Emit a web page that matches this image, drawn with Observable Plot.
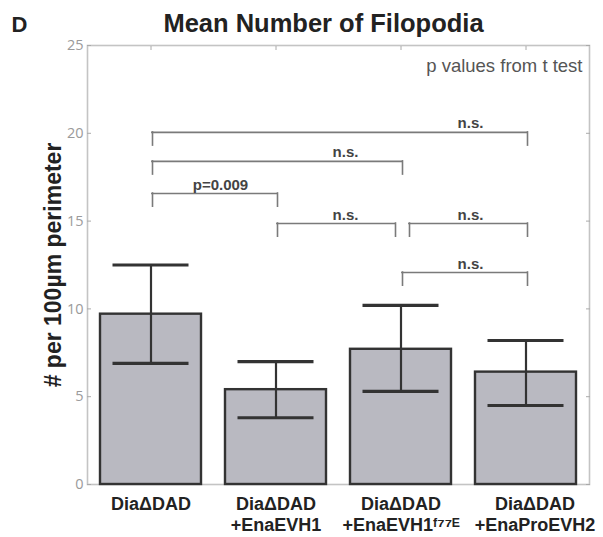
<!DOCTYPE html>
<html>
<head>
<meta charset="utf-8">
<script src="https://cdn.jsdelivr.net/npm/d3@7"></script>
<script src="https://cdn.jsdelivr.net/npm/@observablehq/plot@0.6"></script>
<style>
  body { margin: 0; background: #fff; }
  #chart svg { display: block; }
</style>
</head>
<body>
<div id="chart"></div>
<script>
// ---- data ----
const categories = ["DiaΔDAD", "DiaΔDAD\n+EnaEVH1", "DiaΔDAD\n+EnaEVH1ᶠ⁷⁷ᴱ", "DiaΔDAD\n+EnaProEVH2"];
const means   = [9.7, 5.4, 7.7, 6.4];
const errLow  = [6.9, 3.8, 5.3, 4.5];
const errHigh = [12.5, 7.0, 10.2, 8.2];

const bracketFrom   = [0, 0, 0, 1, 2, 2];
const bracketTo     = [3, 2, 1, 2, 3, 3];
const bracketLevel  = [20.05, 18.4, 16.57, 14.86, 14.86, 12.07];
const bracketLabels = ["n.s.", "n.s.", "p=0.009", "n.s.", "n.s.", "n.s."];

const yTicks = [0, 5, 10, 15, 20, 25];

const titleText = "Mean Number of Filopodia";
const panelLetter = "D";
const noteText = "p values from t test";
const yLabel = "# per 100µm perimeter";

// ---- layout ----
const W = 603, H = 537, ML = 87, MR = 14, MT = 45, MB = 53;
const PI = 0.194, PO = 0.104;
const band = d3.scaleBand().domain(categories).range([ML, W - MR]).paddingInner(PI).paddingOuter(PO);
const bw = band.bandwidth(), step = band.step();
const GAP = 7, LEG = 0.75, BDX = 1.5;
const bracketColor = "#7a7a7a";

const bars = categories.map((c, i) => ({cat: c, mean: means[i], lo: errLow[i], hi: errHigh[i]}));
const brackets = bracketFrom.map((f, i) => ({
  fi: f, ti: bracketTo[i],
  from: categories[f], to: categories[bracketTo[i]],
  y: bracketLevel[i], label: bracketLabels[i]
}));

const bracketMarks = brackets.flatMap(b => {
  const nr = brackets.some(o => o !== b && o.y === b.y && o.fi === b.ti) ? GAP : 0;
  const nl = brackets.some(o => o !== b && o.y === b.y && o.ti === b.fi) ? GAP : 0;
  const common = {stroke: bracketColor, strokeWidth: 1.6, strokeLinecap: "square"};
  return [
    Plot.ruleY([b], {y: "y", x1: "from", x2: "to", insetLeft: bw / 2 + nl, insetRight: bw / 2 + nr, dx: BDX, ...common}),
    Plot.ruleX([b], {x: "from", y1: "y", y2: d => d.y - LEG, dx: BDX + nl, ...common}),
    Plot.ruleX([b], {x: "to", y1: "y", y2: d => d.y - LEG, dx: BDX - nr, ...common})
  ];
});

const xLabelOpts = {
  tickSize: 0, tickPadding: 10, fontSize: 18, fontWeight: "bold", lineHeight: 1.2,
  label: null, color: "#222"
};

const chart = Plot.plot({
  width: W, height: H,
  marginLeft: ML, marginRight: MR, marginTop: MT, marginBottom: MB,
  style: {fontFamily: "'Liberation Sans', Arial, sans-serif", background: "#fff"},
  x: {type: "band", domain: categories, paddingInner: PI, paddingOuter: PO},
  y: {domain: [0, 25]},
  marks: [
    Plot.frame({stroke: "#c4c4c4", strokeWidth: 1.6}),
    // inner tick marks (MATLAB-style box)
    Plot.axisY({ticks: yTicks, tickSize: 4, dx: 4, tickFormat: () => "", label: null, color: "#aaa"}),
    Plot.axisY({anchor: "right", ticks: yTicks, tickSize: 4, dx: -4, tickFormat: () => "", label: null, color: "#aaa"}),
    Plot.axisX({anchor: "top", tickSize: 4, dy: 4, tickFormat: () => "", label: null, color: "#aaa"}),
    // y tick labels
    Plot.axisY({ticks: yTicks, tickSize: 0, tickPadding: 4, fontSize: 14.5, fontFamily: "'Open Sans', sans-serif", label: null, color: "#9a9a9a"}),
    // x tick labels
    Plot.axisX({ticks: categories.slice(0, 3), ...xLabelOpts}),
    Plot.axisX({ticks: categories.slice(3), dx: 9, ...xLabelOpts}),
    // bars
    Plot.barY(bars, {x: "cat", y: "mean", fill: "#b9b9c1", stroke: "#333", strokeWidth: 2.4}),
    // error bars
    Plot.ruleX(bars, {x: "cat", y1: "lo", y2: "hi", stroke: "#333", strokeWidth: 2.2}),
    Plot.tickY(bars, {x: "cat", y: "lo", inset: 12.5, stroke: "#333", strokeWidth: 3.2}),
    Plot.tickY(bars, {x: "cat", y: "hi", inset: 12.5, stroke: "#333", strokeWidth: 3.2}),
    // significance brackets
    ...bracketMarks,
    Plot.text(brackets, {x: "to", y: "y", text: "label", dx: -step / 2 + 7, dy: -4, lineAnchor: "bottom",
      fontSize: 15, fontWeight: "bold", fill: "#444"}),
    // annotations
    Plot.text([noteText], {frameAnchor: "top-right", dx: -7, dy: 26, textAnchor: "end", lineAnchor: "bottom",
      fontSize: 18.5, fill: "#555"}),
    Plot.text([titleText], {frameAnchor: "top", dx: -15, dy: -14, lineAnchor: "bottom",
      fontSize: 25.5, fontWeight: "bold", fill: "#222"}),
    Plot.text([panelLetter], {frameAnchor: "top-left", dx: -(ML - 11), dy: -14, textAnchor: "start", lineAnchor: "bottom",
      fontSize: 22, fontWeight: "bold", fill: "#222"}),
    Plot.text([yLabel], {frameAnchor: "left", dx: -34, rotate: -90, textAnchor: "middle", lineAnchor: "middle",
      fontSize: 23, fontWeight: "bold", fill: "#222"})
  ]
});

document.getElementById("chart").append(chart);
</script>
</body>
</html>
